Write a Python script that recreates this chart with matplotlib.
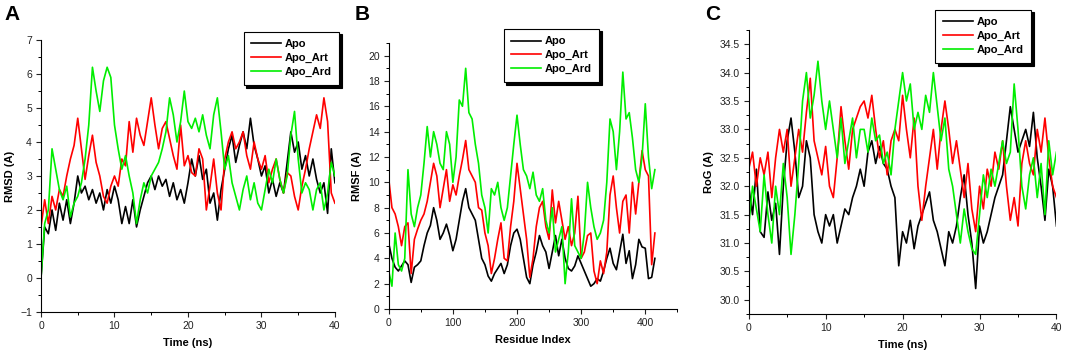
import numpy as np
import matplotlib
matplotlib.use('Agg')
import matplotlib.pyplot as plt
from matplotlib.ticker import MultipleLocator, FormatStrFormatter

plt.rcParams['font.family'] = ['Liberation Sans', 'DejaVu Sans']

labels = ['Apo', 'Apo_Art', 'Apo_Ard']
colors = ['#000000', '#ff0000', '#00ee00']

# panel A: RMSD, one value every 0.5 ns
rmsd_apo = [0.0, 1.5, 1.3, 2.0, 1.4, 2.2, 1.7, 2.3, 1.6, 2.2,
            3.0, 2.5, 2.7, 2.3, 2.6, 2.2, 2.5, 2.0, 2.6, 2.2,
            2.7, 2.3, 1.6, 2.1, 1.6, 2.3, 1.5, 2.0, 2.4, 2.8,
            3.0, 2.6, 3.0, 2.7, 2.9, 2.4, 2.8, 2.3, 2.6, 2.2,
            2.8, 3.5, 3.0, 3.6, 2.9, 3.2, 2.2, 2.5, 1.7, 2.6,
            3.2, 3.8, 4.2, 3.4, 3.9, 4.3, 3.8, 4.7, 3.9, 3.5,
            3.0, 3.3, 2.5, 2.9, 2.4, 2.8, 2.5, 3.4, 4.3, 3.7,
            4.0, 3.2, 3.6, 3.0, 3.5, 2.9, 2.5, 2.8, 1.9, 3.8,
            2.8]
rmsd_art = [1.5, 2.3, 1.6, 2.4, 2.0, 2.6, 2.4, 3.0, 3.5, 3.9,
            4.7, 3.8, 2.9, 3.6, 4.2, 3.4, 3.0, 2.4, 2.2, 2.7,
            3.0, 2.7, 3.5, 3.3, 4.6, 3.7, 4.7, 4.2, 3.9, 4.6,
            5.3, 4.5, 3.8, 4.4, 4.6, 4.1, 3.6, 3.2, 4.5, 3.3,
            3.6, 3.1, 3.0, 3.8, 3.5, 2.0, 2.7, 3.5, 2.5, 2.0,
            3.5, 4.0, 4.3, 3.8, 4.0, 4.3, 3.6, 3.2, 4.0, 3.5,
            3.2, 3.6, 2.8, 3.2, 3.5, 2.9, 2.5, 3.1, 3.0, 2.4,
            2.0, 2.7, 3.2, 3.8, 4.3, 4.8, 4.4, 5.3, 4.6, 2.5,
            2.2]
rmsd_ard = [0.0, 1.6, 2.0, 3.8, 3.2, 2.6, 2.3, 2.7, 1.8, 2.2,
            2.4, 2.8, 3.5, 4.5, 6.2, 5.5, 4.9, 5.8, 6.2, 5.9,
            4.5, 3.8, 3.2, 3.6, 3.0, 2.5, 1.6, 2.3, 2.8, 2.5,
            3.0, 3.2, 3.4, 3.8, 4.3, 5.3, 4.8, 4.0, 4.6, 5.5,
            4.6, 4.4, 4.7, 4.3, 4.8, 4.2, 3.8, 4.8, 5.3, 4.3,
            3.2, 3.6, 2.8, 2.4, 2.0, 2.6, 3.0, 2.3, 2.8, 2.2,
            2.0, 2.6, 3.2, 2.8, 3.5, 2.9, 2.5, 3.0, 4.2, 4.9,
            3.5, 2.5, 2.8, 2.6, 2.0, 2.6, 2.8, 2.0, 2.5, 3.4,
            3.0]

# panel B: RMSF, one value every 5 residues
rmsf_apo = [5.2, 4.0, 3.3, 3.0, 3.4, 3.8, 3.5, 2.1, 3.3, 3.5,
            3.8, 5.0, 6.0, 6.6, 8.0, 7.0, 5.5, 6.0, 6.7, 5.8,
            4.6, 5.5, 7.0, 8.5, 9.5, 8.0, 7.5, 7.0, 5.5, 4.0,
            3.5, 2.6, 2.2, 2.8, 3.2, 3.6, 2.8, 3.5, 5.0, 6.0,
            6.3, 5.5, 4.0, 2.5, 2.0, 3.5, 4.5, 5.8, 5.0, 4.5,
            3.2, 4.5, 5.8, 4.2, 5.5, 4.0, 3.2, 3.0, 3.4, 4.2,
            3.6, 3.0, 2.4, 1.8, 2.0, 2.4, 2.2, 3.0, 4.0, 4.8,
            3.6, 3.1, 4.5, 5.9, 3.6, 4.6, 2.4, 3.5, 5.5, 4.9,
            4.8, 2.4, 2.5, 4.0]
rmsf_art = [10.3, 8.0, 7.5, 6.5, 5.0, 6.5, 6.8, 2.8, 5.5, 6.3,
            7.0, 7.5, 8.5, 10.0, 11.5, 10.5, 8.0, 9.5, 11.0, 8.5,
            9.8, 9.0, 10.5, 11.8, 13.3, 11.0, 10.5, 10.0, 8.0, 7.8,
            6.0, 5.0, 2.8, 4.0, 5.5, 6.8, 4.0, 3.8, 6.5, 8.5,
            11.5, 9.5, 7.5, 5.5, 2.5, 4.0, 6.5, 8.0, 8.5, 6.5,
            5.5, 9.4, 6.8, 8.5, 7.0, 5.5, 6.5, 5.0, 6.0, 8.9,
            4.0, 4.5, 5.8, 6.0, 3.0, 2.0, 3.8, 2.8, 4.5, 9.0,
            10.5, 8.0, 6.0, 8.5, 9.0, 6.0, 10.0, 7.5, 10.0, 12.5,
            11.0, 10.5, 3.5, 6.0]
rmsf_ard = [3.0, 1.8, 6.0, 3.5, 3.0, 4.0, 11.0, 7.5, 6.5, 8.0,
            9.0, 11.5, 14.4, 12.0, 14.0, 13.0, 11.5, 11.0, 14.0, 13.0,
            10.0, 12.0, 16.5, 16.0, 19.0, 15.5, 15.0, 13.0, 11.5, 9.0,
            8.0, 6.0, 9.5, 9.0, 10.0, 8.0, 7.0, 8.0, 10.5, 13.0,
            15.3, 13.0, 11.0, 10.5, 9.5, 10.8, 9.0, 8.5, 9.5, 7.0,
            6.0, 8.0, 4.5, 5.5, 6.5, 2.0, 4.5, 8.7, 5.0, 4.5,
            4.0, 6.0, 10.0, 8.0, 6.5, 5.5, 6.0, 7.0, 10.0, 15.0,
            14.0, 11.0, 14.0, 18.7, 15.0, 15.5, 13.5, 11.0, 10.0, 12.0,
            16.2, 12.0, 9.5, 11.0]

# panel C: radius of gyration, one value every 0.5 ns
rog_apo = [32.0, 31.5, 32.3, 31.2, 31.1, 31.9, 31.4, 31.7, 30.8, 32.0,
           32.8, 33.2, 32.6, 31.8, 32.0, 32.8, 32.5, 31.5, 31.2, 31.0,
           31.5, 31.3, 31.5, 31.0, 31.3, 31.6, 31.5, 31.8, 32.0, 32.3,
           32.0, 32.6, 32.8, 32.4, 32.7, 32.4, 32.3, 32.0, 31.8, 30.6,
           31.2, 31.0, 31.4, 30.9, 31.3, 31.5, 31.7, 31.9, 31.4, 31.2,
           30.9, 30.6, 31.2, 31.0, 31.3, 31.8, 32.2, 31.5, 31.0, 30.2,
           31.3, 31.0, 31.2, 31.5, 31.8, 32.0, 32.2, 32.8, 33.4, 33.0,
           32.6, 32.8, 33.0, 32.7, 33.3, 32.5, 32.0, 31.4, 32.3, 32.0,
           31.3]
rog_art = [32.3, 32.6, 32.0, 32.5, 32.2, 32.6, 31.8, 32.5, 33.0, 32.6,
           33.0, 32.0, 32.5, 33.0, 32.6, 33.3, 33.9, 32.8, 32.5, 32.2,
           32.7, 32.0, 31.8, 32.5, 33.4, 32.8, 32.3, 33.0, 33.2, 33.4,
           33.5, 33.2, 33.6, 33.0, 32.5, 32.8, 32.2, 32.8, 33.0, 32.8,
           33.6, 33.0, 32.5, 33.2, 32.0, 31.4, 32.0, 32.5, 33.0, 32.3,
           33.0, 33.5, 33.0, 32.4, 32.8, 32.3, 31.8, 32.4, 31.6, 31.2,
           32.0, 31.6, 32.3, 32.0, 32.6, 32.3, 32.8, 32.0, 31.4, 31.8,
           31.3, 32.4, 32.8, 32.4, 32.2, 33.0, 32.6, 33.2, 32.5, 32.0,
           31.8]
rog_ard = [31.3, 32.0, 31.6, 31.2, 32.2, 31.5, 31.0, 32.0, 31.5, 32.4,
           31.8, 30.8, 31.5, 32.4, 33.5, 34.0, 33.2, 33.6, 34.2, 33.5,
           33.0, 33.5, 33.0, 32.5, 33.2, 32.4, 32.8, 33.2, 32.5, 33.0,
           33.0, 32.6, 33.2, 32.8, 32.9, 32.4, 32.6, 32.2, 33.0, 33.5,
           34.0, 33.5, 33.8, 33.0, 33.3, 33.0, 33.6, 33.3, 34.0, 33.4,
           32.8, 33.2, 32.3, 32.0, 31.5, 31.0, 31.6, 31.2, 30.9, 30.8,
           31.5, 32.2, 31.8, 32.3, 32.0, 32.4, 32.8, 32.4, 32.6, 33.8,
           33.0, 32.0, 31.6, 32.2, 32.5, 31.8, 32.4, 31.5, 32.8, 32.2,
           32.6]

time_a = np.arange(len(rmsd_apo)) * 0.5
residue = np.arange(len(rmsf_apo)) * 5
time_c = np.arange(len(rog_apo)) * 0.5


def style_axis(ax, xlabel, ylabel):
    ax.spines['top'].set_visible(False)
    ax.spines['right'].set_visible(False)
    ax.tick_params(which='major', direction='out', length=3.5, width=0.8,
                   labelsize=7.5, pad=3, colors='#222222')
    ax.tick_params(which='minor', direction='out', length=2, width=0.7)
    ax.set_xlabel(xlabel, fontsize=8, fontweight='bold', labelpad=5)
    ax.set_ylabel(ylabel, fontsize=8, fontweight='bold', labelpad=4)


def add_legend(ax, fig, x, y):
    leg = ax.legend(labels, loc='upper left', bbox_to_anchor=(x, y),
                    bbox_transform=fig.transFigure, fancybox=False,
                    shadow={'color': 'black', 'alpha': 1},
                    edgecolor='black', framealpha=1,
                    prop={'size': 8, 'weight': 'bold'},
                    handlelength=2.7, handletextpad=0.3,
                    labelspacing=0.35, borderpad=0.7)
    leg.get_frame().set_linewidth(0.8)
    leg.set_zorder(10)


fig = plt.figure(figsize=(10.65, 3.61), dpi=100)

# A
ax1 = fig.add_axes([0.0385, 0.136, 0.276, 0.753])
for y, c in zip([rmsd_apo, rmsd_art, rmsd_ard], colors):
    ax1.plot(time_a, y, color=c, lw=1.2)
ax1.set_xlim(0, 40)
ax1.set_ylim(-1, 7)
ax1.xaxis.set_major_locator(MultipleLocator(10))
ax1.xaxis.set_minor_locator(MultipleLocator(5))
ax1.yaxis.set_major_locator(MultipleLocator(1))
ax1.yaxis.set_minor_locator(MultipleLocator(0.5))
style_axis(ax1, 'Time (ns)', 'RMSD (A)')
add_legend(ax1, fig, 0.2235, 0.928)
fig.text(0.004, 0.985, 'A', fontsize=15, fontweight='bold', va='top')

# B
ax2 = fig.add_axes([0.365, 0.144, 0.271, 0.737])
for y, c in zip([rmsf_apo, rmsf_art, rmsf_ard], colors):
    ax2.plot(residue, y, color=c, lw=1.2)
ax2.set_xlim(0, 450)
ax2.set_ylim(0, 21)
ax2.xaxis.set_major_locator(MultipleLocator(100))
ax2.xaxis.set_minor_locator(MultipleLocator(50))
ax2.yaxis.set_major_locator(MultipleLocator(2))
ax2.yaxis.set_minor_locator(MultipleLocator(1))
style_axis(ax2, 'Residue Index', 'RMSF (A)')
add_legend(ax2, fig, 0.4676, 0.936)
fig.text(0.333, 0.985, 'B', fontsize=15, fontweight='bold', va='top')

# C
ax3 = fig.add_axes([0.703, 0.130, 0.289, 0.787])
for y, c in zip([rog_apo, rog_art, rog_ard], colors):
    ax3.plot(time_c, y, color=c, lw=1.2)
ax3.set_xlim(0, 40)
ax3.set_ylim(29.75, 34.75)
ax3.xaxis.set_major_locator(MultipleLocator(10))
ax3.xaxis.set_minor_locator(MultipleLocator(5))
ax3.yaxis.set_major_locator(MultipleLocator(0.5))
ax3.yaxis.set_minor_locator(MultipleLocator(0.25))
ax3.yaxis.set_major_formatter(FormatStrFormatter('%.1f'))
style_axis(ax3, 'Time (ns)', 'RoG (A)')
add_legend(ax3, fig, 0.873, 0.989)
fig.text(0.662, 0.985, 'C', fontsize=15, fontweight='bold', va='top')

fig.savefig('out.png', dpi=100)
